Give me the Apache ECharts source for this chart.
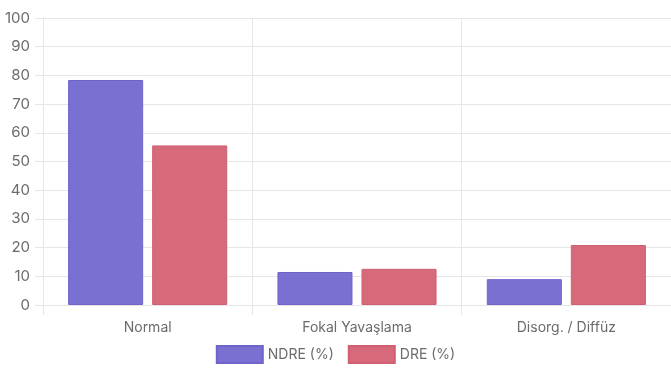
<!DOCTYPE html>
<html>
<head>
<meta charset="utf-8">
<script src="https://cdn.jsdelivr.net/npm/echarts@6/dist/echarts.min.js"></script>
<style>
  html, body { margin: 0; padding: 0; background: #fff; }
  #chart { width: 671px; height: 374px; }
</style>
</head>
<body>
<div id="chart"></div>
<script>
// EEG pattern distribution by group (percent)
const categories = ['Normal', 'Fokal Yavaşlama', 'Disorg. / Diffüz'];
const ndreValues = [78.4, 11.5, 9.0];
const dreValues = [55.6, 12.6, 20.9];
const seriesNames = ['NDRE (%)', 'DRE (%)'];

const gridColor = '#e6e6e6';
const textColor = '#6b6b6b';
const font = 'Inter, "Noto Sans", sans-serif';

const chart = echarts.init(document.getElementById('chart'));
chart.setOption({
  animation: false,
  grid: { left: 43, right: 0, top: 18, bottom: 69 },
  legend: {
    bottom: 10,
    left: 'center',
    icon: 'rect',
    itemWidth: 46,
    itemHeight: 17,
    itemGap: 14,
    padding: 0,
    textStyle: { color: textColor, fontFamily: font, fontSize: 14 },
    data: seriesNames
  },
  xAxis: {
    type: 'category',
    data: categories,
    axisLine: { show: true, lineStyle: { color: gridColor } },
    axisTick: { show: true, length: 10, lineStyle: { color: gridColor } },
    splitLine: { show: true, lineStyle: { color: gridColor } },
    axisLabel: { color: textColor, fontFamily: font, fontSize: 14, margin: 16 }
  },
  yAxis: {
    type: 'value',
    min: 0,
    max: 100,
    interval: 10,
    axisLine: { show: true, lineStyle: { color: gridColor } },
    axisTick: { show: true, length: 8, lineStyle: { color: gridColor } },
    splitLine: { show: true, lineStyle: { color: gridColor } },
    axisLabel: { color: textColor, fontFamily: font, fontSize: 15, margin: 13 }
  },
  series: [
    {
      name: seriesNames[0],
      type: 'bar',
      data: ndreValues,
      barGap: '12%',
      barCategoryGap: '24%',
      itemStyle: { color: '#7a70d2', borderColor: '#6f64cc', borderWidth: 1 }
    },
    {
      name: seriesNames[1],
      type: 'bar',
      data: dreValues,
      itemStyle: { color: '#d6697a', borderColor: '#cf5f71', borderWidth: 1 }
    }
  ]
});
</script>
</body>
</html>
